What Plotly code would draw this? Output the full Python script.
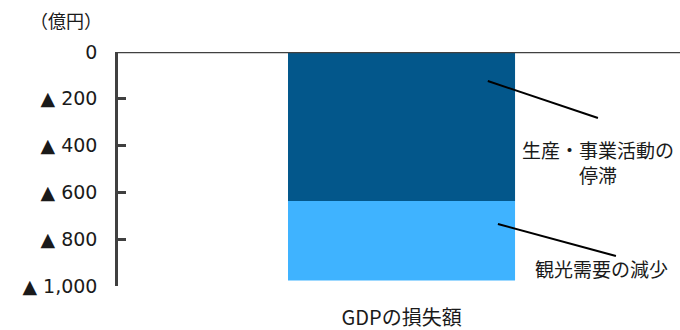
import plotly.graph_objects as go

# Data (億円, losses shown as negatives)
categories = ["GDPの損失額"]
series_names = ["生産・事業活動の<br>停滞", "観光需要の減少"]
production_loss = [-637]
tourism_loss = [-340]
tick_values = [0, -200, -400, -600, -800, -1000]
tick_labels = ["0", "▲ 200", "▲ 400", "▲ 600", "▲ 800", "▲ 1,000"]

colors = ["#03578B", "#3FB3FF"]
jp_font = "Meiryo, 'Noto Sans CJK JP', sans-serif"
num_font = "Verdana, 'DejaVu Sans', sans-serif"

fig = go.Figure()
fig.add_trace(go.Bar(x=categories, y=production_loss, name=series_names[0],
                     marker=dict(color=colors[0], line=dict(width=0)), width=0.404))
fig.add_trace(go.Bar(x=categories, y=tourism_loss, name=series_names[1],
                     marker=dict(color=colors[1], line=dict(width=0)), width=0.404))

# zero baseline across the top of the plot
fig.add_shape(type="line", xref="paper", yref="y", x0=0, x1=1, y0=0, y1=0,
              line=dict(color="#404040", width=2.5))

# leader lines from each segment to its label
fig.add_shape(type="line", xref="paper", yref="y", x0=0.658, y0=-124, x1=0.854, y1=-282,
              line=dict(color="black", width=2))
fig.add_shape(type="line", xref="paper", yref="y", x0=0.676, y0=-735, x1=0.886, y1=-872,
              line=dict(color="black", width=2))

fig.add_annotation(xref="paper", yref="y", x=0.854, y=-472, text=series_names[0],
                   xanchor="center", yanchor="middle",
                   showarrow=False, font=dict(family=jp_font, size=19, color="#1a1a1a"),
                   align="center")
fig.add_annotation(xref="paper", yref="y", x=0.861, y=-927, text=series_names[1],
                   xanchor="center", yanchor="middle",
                   showarrow=False, font=dict(family=jp_font, size=19, color="#1a1a1a"))
fig.add_annotation(xref="paper", yref="paper", x=-0.0925, y=1.0, yshift=32, text="（億円）",
                   xanchor="center", yanchor="middle",
                   showarrow=False, font=dict(family=jp_font, size=18, color="#1a1a1a"))

fig.update_layout(
    barmode="relative",
    width=680, height=330,
    margin=dict(l=118, r=0, t=52, b=44),
    plot_bgcolor="white", paper_bgcolor="white",
    showlegend=False,
    xaxis=dict(range=[-0.5045, 0.4955], showline=False, showgrid=False, ticks="",
               ticklabelstandoff=18,
               tickfont=dict(family=jp_font, size=20, color="#1a1a1a")),
    yaxis=dict(range=[-1000, 0], tickvals=tick_values, ticktext=tick_labels,
               showgrid=False, zeroline=False, showline=True, linecolor="#404040",
               linewidth=2.5, ticks="inside", ticklen=8, tickwidth=2.5, tickcolor="#404040",
               ticklabelstandoff=14,
               tickfont=dict(family=num_font, size=19, color="#1a1a1a")),
)

fig.write_html("out.html")
